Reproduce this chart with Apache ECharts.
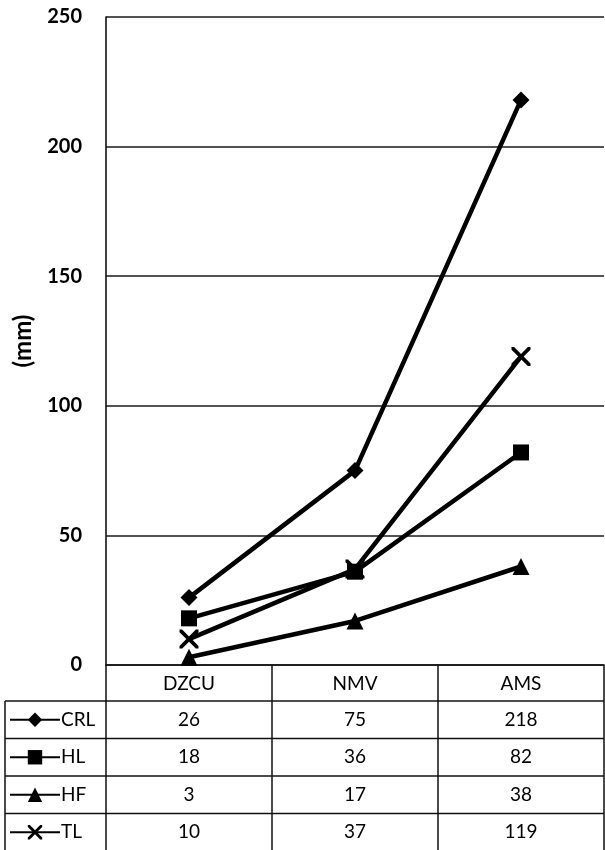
<!DOCTYPE html>
<html>
<head>
<meta charset="utf-8">
<script src="https://cdn.jsdelivr.net/npm/echarts@6/dist/echarts.min.js"></script>
<style>
html,body{margin:0;padding:0;background:#fff;}
#chart{width:605px;height:850px;}
</style>
</head>
<body>
<div id="chart"></div>
<script>
// ---- data ----
const categories = ['DZCU', 'NMV', 'AMS'];
const seriesNames = ['CRL', 'HL', 'HF', 'TL'];
const crlValues = [26, 75, 218];
const hlValues = [18, 36, 82];
const hfValues = [3, 17, 38];
const tlValues = [10, 37, 119];
const yAxisName = '(mm)';
const yMin = 0, yMax = 250, yInterval = 50;

const seriesValues = [crlValues, hlValues, hfValues, tlValues];
const crossPath = 'path://M0,0L1.4,0L5,3.6L8.6,0L10,0L10,1.4L6.4,5L10,8.6L10,10L8.6,10L5,6.4L1.4,10L0,10L0,8.6L3.6,5L0,1.4Z';
const symbols = ['diamond', 'rect', 'triangle', crossPath];
const symbolSizes = [17, 16, 17, 19];
const FONT = 'Lato, "Liberation Sans", sans-serif';

const grid = {left: 106, right: 1, top: 17, bottom: 185};
const rowTop = 701, rowH = 37.5;

const chart = echarts.init(document.getElementById('chart'));
const option = {
  animation: false,
  backgroundColor: '#fff',
  grid: grid,
  xAxis: {
    type: 'category',
    data: categories,
    boundaryGap: true,
    axisLine: {show: true, lineStyle: {color: '#111', width: 1.6}},
    axisTick: {show: true, length: 190, lineStyle: {color: '#111', width: 1.5}},
    axisLabel: {color: '#000', fontFamily: FONT, fontSize: 19, margin: 9},
    splitLine: {show: false}
  },
  yAxis: {
    type: 'value',
    min: yMin, max: yMax, interval: yInterval,
    name: yAxisName,
    nameLocation: 'middle',
    nameRotate: 90,
    nameGap: 71,
    nameTextStyle: {color: '#000', fontFamily: FONT, fontSize: 24, fontWeight: 'bold'},
    axisLine: {show: true, lineStyle: {color: '#111', width: 1.6}},
    axisTick: {show: false},
    axisLabel: {color: '#000', fontFamily: FONT, fontSize: 20, fontWeight: 'bold', margin: 24},
    splitLine: {show: true, lineStyle: {color: '#1a1a1a', width: 1.6}}
  },
  legend: {
    orient: 'vertical',
    left: 9,
    top: rowTop + (rowH - 22) / 2,
    padding: 0,
    itemGap: rowH - 22,
    itemWidth: 50,
    itemHeight: 18,
    data: seriesNames,
    textStyle: {color: '#000', fontFamily: FONT, fontSize: 19, lineHeight: 22, padding: [0, 0, 0, -4]},
    selectedMode: false
  },
  series: seriesNames.map((n, i) => ({
    name: n,
    type: 'line',
    data: seriesValues[i],
    symbol: symbols[i],
    symbolSize: symbolSizes[i],
    showAllSymbol: true,
    lineStyle: {color: '#000', width: 4.5},
    itemStyle: {color: '#000'},
    z: 3 + i
  }))
};
chart.setOption(option);

// ---- data table (built from the arrays) ----
const elems = [];
const xRight = 605 - grid.right;
for (let r = 0; r <= seriesNames.length; r++) {
  const y = rowTop + r * rowH;
  elems.push({type: 'line', shape: {x1: 5, y1: y, x2: xRight, y2: y},
    style: {stroke: '#111', lineWidth: 1.5}, silent: true});
}
elems.push({type: 'line', shape: {x1: 5, y1: rowTop, x2: 5, y2: 850},
  style: {stroke: '#111', lineWidth: 1.5}, silent: true});
seriesNames.forEach((n, r) => {
  categories.forEach((c, k) => {
    const px = chart.convertToPixel({xAxisIndex: 0}, c);
    elems.push({type: 'text', x: px, y: rowTop + r * rowH + rowH / 2,
      style: {text: String(seriesValues[r][k]), fill: '#000', font: '19px ' + FONT,
        align: 'center', verticalAlign: 'middle'}, silent: true});
  });
});
chart.setOption({graphic: {elements: elems}});
</script>
</body>
</html>
